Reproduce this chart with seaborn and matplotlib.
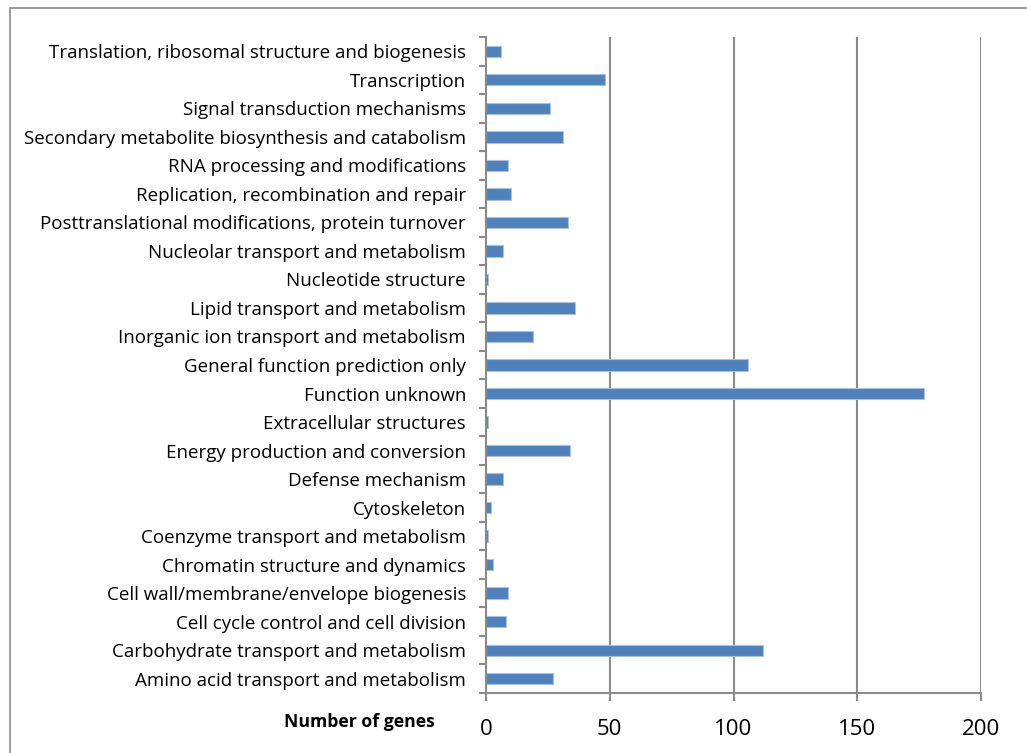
import matplotlib
matplotlib.use("Agg")
import matplotlib.pyplot as plt
import seaborn as sns
import pandas as pd
from matplotlib.patches import Rectangle
from matplotlib.ticker import FixedLocator

categories = [
    "Translation, ribosomal structure and biogenesis",
    "Transcription",
    "Signal transduction mechanisms",
    "Secondary metabolite biosynthesis and catabolism",
    "RNA processing and modifications",
    "Replication, recombination and repair",
    "Posttranslational modifications, protein turnover",
    "Nucleolar transport and metabolism",
    "Nucleotide structure",
    "Lipid transport and metabolism",
    "Inorganic ion transport and metabolism",
    "General function prediction only",
    "Function unknown",
    "Extracellular structures",
    "Energy production and conversion",
    "Defense mechanism",
    "Cytoskeleton",
    "Coenzyme transport and metabolism",
    "Chromatin structure and dynamics",
    "Cell wall/membrane/envelope biogenesis",
    "Cell cycle control and cell division",
    "Carbohydrate transport and metabolism",
    "Amino acid transport and metabolism",
]
gene_counts = [6, 48, 26, 31, 9, 10, 33, 7, 1, 36, 19, 106, 177, 1, 34, 7, 2, 1, 3, 9, 8, 112, 27]
x_ticks = [0, 50, 100, 150, 200]
x_label = "Number of genes"

sns.set_theme(style="white")
plt.rcParams["font.family"] = ["Open Sans", "DejaVu Sans"]

df = pd.DataFrame({"category": categories, "genes": gene_counts})

fig = plt.figure(figsize=(10.27, 7.53), dpi=100)
ax = fig.add_axes([486 / 1027, 1 - 693 / 753, (981 - 486) / 1027, (693 - 37) / 753])

sns.barplot(data=df, y="category", x="genes", order=categories, orient="h",
            color="#4F81BD", saturation=1, width=0.4, edgecolor="#A9C0DF",
            linewidth=0.8, ax=ax, zorder=3)

n = len(categories)
ax.set_ylim(n - 0.5, -0.5)
ax.set_xlim(0, 200)
ax.set_xticks(x_ticks)
ax.set_xticklabels([str(t) for t in x_ticks])
ax.set_yticks(range(n))
ax.set_yticklabels(categories)
ax.yaxis.set_minor_locator(FixedLocator([i - 0.5 for i in range(n + 1)]))

grid_c = "#8A8A8A"
for t in x_ticks[1:]:
    ax.axvline(t, color=grid_c, lw=1.5, zorder=1)

for side in ["top", "right"]:
    ax.spines[side].set_visible(False)
for side in ["left", "bottom"]:
    ax.spines[side].set_color(grid_c)
    ax.spines[side].set_linewidth(1.5)
    ax.spines[side].set_zorder(4)

ax.tick_params(axis="y", which="major", length=0, pad=14.4, labelsize=13.5, colors="black")
ax.tick_params(axis="y", which="minor", length=5, width=1.5, color=grid_c, left=True)
ax.tick_params(axis="x", which="major", length=5.8, width=1.5, color=grid_c, bottom=True,
               pad=13, labelsize=16, labelcolor="black")
ax.set_xlabel("")
ax.set_ylabel("")

fig.text(435 / 1027, 1 - 722 / 753, x_label, ha="right", va="center",
         fontsize=12.7, fontweight="bold", color="black")

fig.patches.append(Rectangle((10 / 1027, -0.1), 1.2, 1 - 8 / 753 + 0.1,
                             transform=fig.transFigure, fill=False,
                             edgecolor="#8C8C8C", lw=1.2, figure=fig))

fig.savefig("out.png", dpi=100, facecolor="white")
